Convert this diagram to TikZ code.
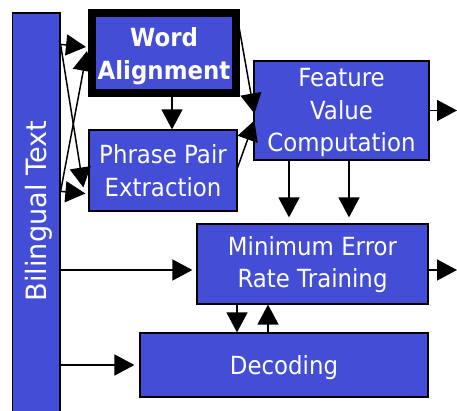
\documentclass[tikz,border=0pt]{standalone}
\usepackage{fontspec}
\usepackage{graphicx}
\setmainfont{DejaVu Sans}[FakeStretch=0.915]
\newfontfamily\sidefont{DejaVu Sans}[FakeStretch=0.97]
\usetikzlibrary{arrows.meta,calc}
\definecolor{boxblue}{RGB}{67,77,214}
% invisible strut that sets the height of a first text line
\newcommand{\topline}[1]{\rule{0pt}{#1}}

\begin{document}
\begin{tikzpicture}[x=1pt,y=-1pt,
  box/.style={draw=black,line width=1.2pt,fill=boxblue,text=white,
    inner sep=0pt,align=center,font=\fontsize{25}{32.5}\selectfont},
  flow/.style={line width=1.5pt,-{Triangle[length=20pt,width=21pt]}},
]
\useasboundingbox (0,0) rectangle (457,411);

% processing stages
\node[box,minimum width=47.5pt,minimum height=402pt] (bt) at (36.25,214)
  {\rotatebox{90}{\raisebox{-10.5pt}[0pt][0pt]{\sidefont\fontsize{28}{32}\selectfont\hspace*{6pt}Bilingual Text}}};
\node[box,line width=8pt,minimum width=144pt,minimum height=80pt] (wa) at (164,53)
  {\topline{25.6pt}\bfseries Word\\\bfseries Alignment};
\node[box,minimum width=148pt,minimum height=81pt] (pp) at (163,170.5)
  {Phrase Pair\\Extraction};
\node[box,minimum width=175pt,minimum height=99pt] (fvc) at (341.5,110.5)
  {\topline{23.2pt}Feature\\Value\\Computation};
\node[box,minimum width=231pt,minimum height=80pt] (mert) at (312.5,264)
  {\topline{20pt}Minimum Error\\Rate Training};
\node[box,minimum width=288pt,minimum height=64pt] (dec) at (284,365)
  {\topline{25pt}Decoding};

% open outputs on the right
\coordinate (out1) at (457,110.5);
\coordinate (out2) at (457,270);

% bilingual text feeds both extraction stages (straight and crossed)
\draw[flow] ($(bt.north east)+(0,32)$) -- ($(wa.west)+(-2,-6)$);
\draw[flow] ($(bt.north east)+(0,179)$) -- ($(pp.west)+(-3,23)$);
\draw[flow] ($(bt.north east)+(0,32)$) -- ($(pp.west)+(-5,17)$);
\draw[flow] ($(bt.north east)+(0,179)$) -- ($(wa.west)+(-1,-2)$);

% alignment -> phrase pairs
\draw[flow] ($(wa.south)+(8,0)$) -- ($(pp.north)+(9,0)$);

% into feature computation
\draw[flow] ($(wa.north east)+(-4,1)$) -- ($(fvc.west)+(1,3)$);
\draw[flow] ($(pp.east)+(0,-3)$) -- ($(fvc.west)+(1,10)$);
\draw[flow] (fvc.east) -- (out1);

% feature values -> MERT
\draw[flow] ($(fvc.south)+(-52.5,0)$) -- ($(fvc.south |- mert.north)+(-52.5,-6)$);
\draw[flow] ($(fvc.south)+(7.5,0)$) -- ($(fvc.south |- mert.north)+(7.5,-6)$);

% bilingual text -> MERT and decoding
\draw[flow] ($(bt.east |- mert.west)+(0,6)$) -- ($(mert.west)+(-4,6)$);
\draw[flow] (bt.east |- dec.west) -- ($(dec.west)+(-5,0)$);
\draw[flow] ($(mert.east)+(0,6)$) -- (out2);

% MERT <-> decoding loop
\draw[flow] ($(mert.south)+(-75.5,0)$) -- ($(mert.south |- dec.north)+(-75.5,0)$);
\draw[flow] ($(mert.south |- dec.north)+(-44.5,0)$) -- ($(mert.south)+(-44.5,0)$);
\end{tikzpicture}
\end{document}
